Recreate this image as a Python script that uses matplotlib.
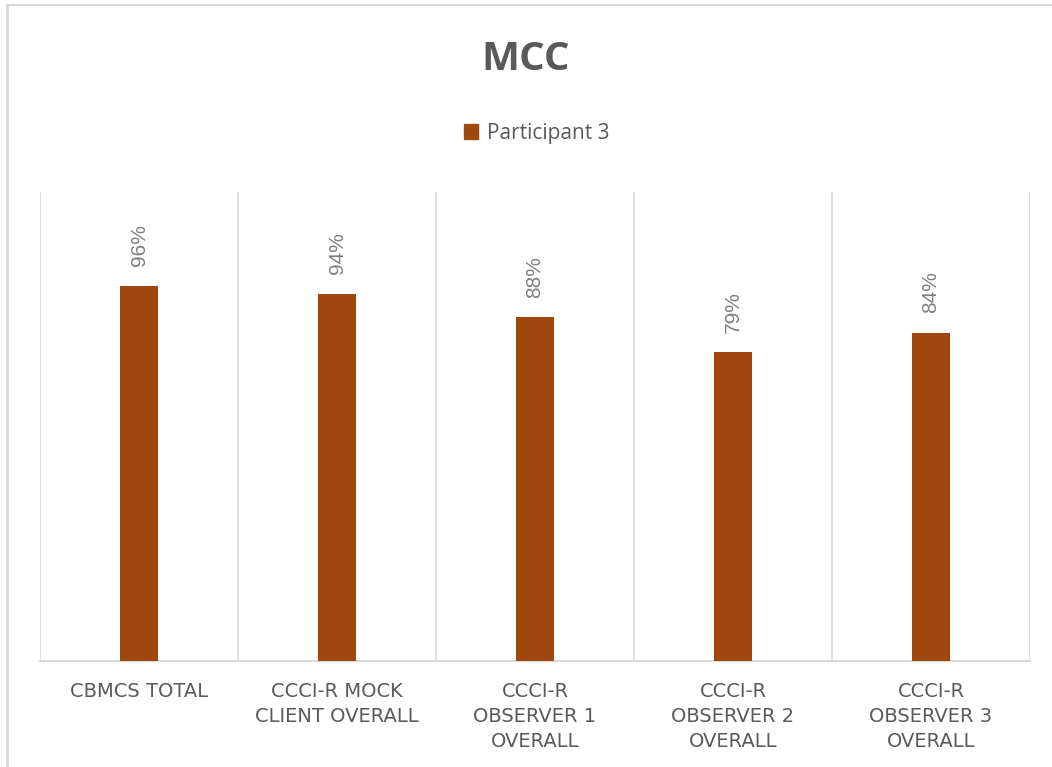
import matplotlib.pyplot as plt
from matplotlib.lines import Line2D
from matplotlib.patches import Patch

categories = ["CBMCS TOTAL", "CCCI-R MOCK\nCLIENT OVERALL", "CCCI-R\nOBSERVER 1\nOVERALL",
              "CCCI-R\nOBSERVER 2\nOVERALL", "CCCI-R\nOBSERVER 3\nOVERALL"]
values = [0.96, 0.94, 0.88, 0.79, 0.84]
series_name = "Participant 3"

bar_color = "#9E480E"
grid_color = "#D9D9D9"
text_gray = "#595959"
label_gray = "#7F7F7F"

fig = plt.figure(figsize=(10.52, 7.67), dpi=100)
ax = fig.add_axes([40 / 1052, 1 - 661 / 767, 990 / 1052, (661 - 192) / 767])

x = list(range(len(categories)))
ax.bar(x, values, width=0.19, color=bar_color, zorder=3)

ax.set_xlim(-0.5, len(categories) - 0.5)
ax.set_ylim(0, 1.2)

# vertical separators between categories
for b in range(len(categories) + 1):
    ax.axvline(b - 0.5, color=grid_color, lw=1.2, zorder=1)

for s in ["top", "right", "left"]:
    ax.spines[s].set_visible(False)
ax.spines["bottom"].set_color(grid_color)
ax.spines["bottom"].set_linewidth(1.5)

ax.set_yticks([])
ax.set_xticks(x)
ax.set_xticklabels(categories, fontsize=14, color=text_gray, family="DejaVu Sans",
                   linespacing=1.42)
ax.tick_params(axis="x", length=0, pad=15)

for xi, v in zip(x, values):
    ax.annotate(f"{v:.0%}", (xi, v), xytext=(0, 14), textcoords="offset points",
                rotation=90, ha="center", va="bottom", fontsize=15,
                color=label_gray, family="Liberation Sans")

fig.text(0.5, 1 - 59 / 767, "MCC", ha="center", va="center", fontsize=29,
         fontweight="bold", color=text_gray, family="Open Sans")

fig.legend(handles=[Patch(color=bar_color, label=series_name)], loc="center",
           bbox_to_anchor=(0.51, 1 - 133 / 767), frameon=False,
           handlelength=0.7, handleheight=0.7, handletextpad=0.4,
           labelcolor=text_gray, prop={"family": "Open Sans", "size": 15})

# chart area border (left and top edges visible)
fig.add_artist(Line2D([7 / 1052, 7 / 1052], [0, 1 - 5 / 767], transform=fig.transFigure,
                      color=grid_color, lw=2))
fig.add_artist(Line2D([7 / 1052, 1], [1 - 5 / 767, 1 - 5 / 767], transform=fig.transFigure,
                      color=grid_color, lw=1.5))

fig.savefig("out.png", dpi=100)
